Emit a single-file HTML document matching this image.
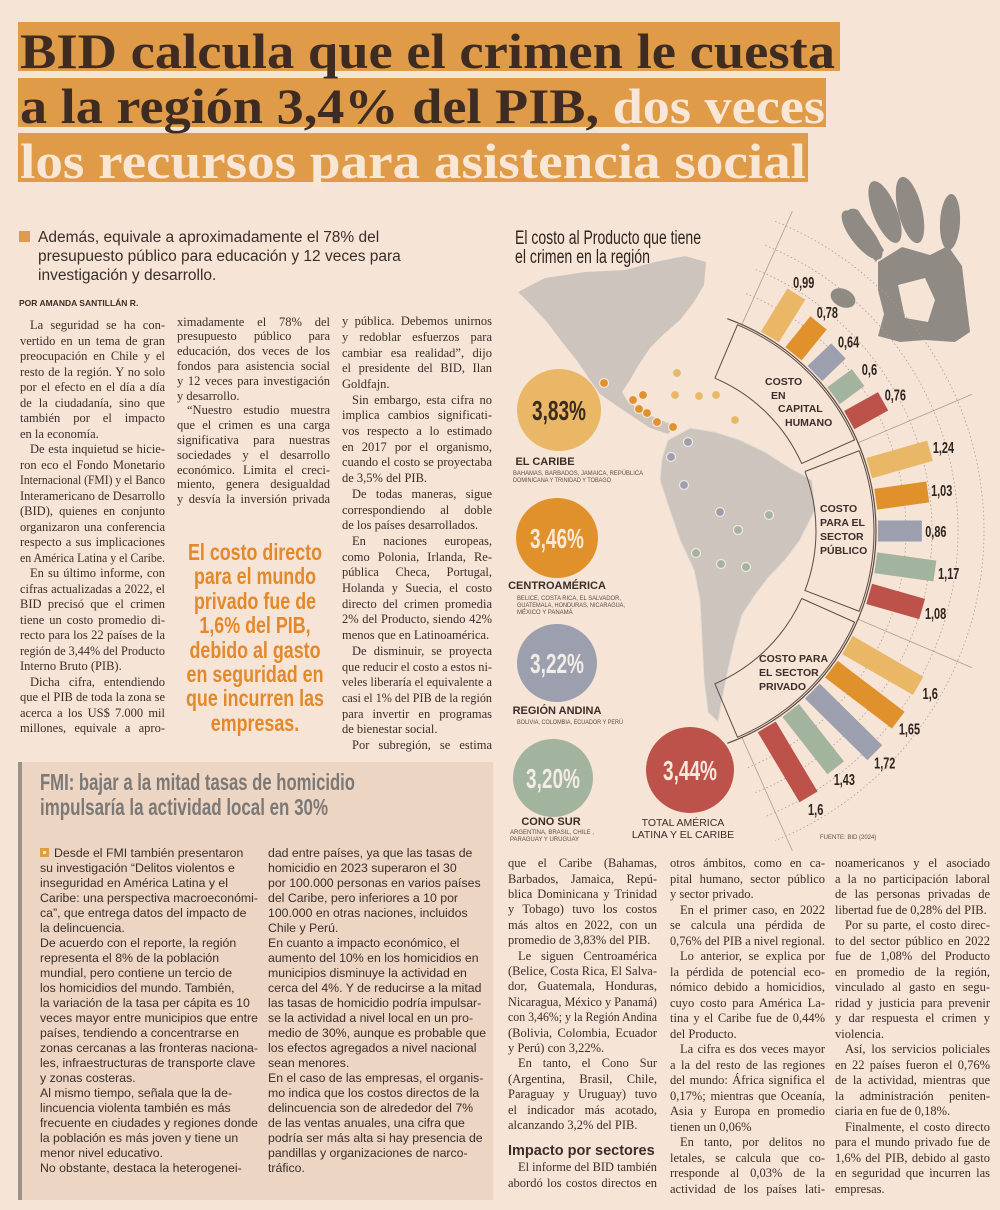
<!DOCTYPE html>
<html><head><meta charset="utf-8">
<style>
html,body{margin:0;padding:0;}
body{width:1000px;height:1210px;background:#f6e4d7;position:relative;overflow:hidden;font-family:"Liberation Serif",serif;color:#3a2e28;}
.abs{position:absolute;}
.hl{position:absolute;left:18px;background:#e09b48;height:49px;}
.tl{position:absolute;left:20px;font-family:"Liberation Serif",serif;font-weight:bold;font-size:50px;white-space:nowrap;line-height:1;}
.ln{position:absolute;white-space:nowrap;}
.col{position:absolute;}
</style></head>
<body>

<div class="hl" style="top:22px;width:822px"></div>
<div class="hl" style="top:78px;width:808px"></div>
<div class="hl" style="top:133px;width:790px"></div>
<div class="tl fit" data-w="815" style="top:26px;color:#3e2c22">BID calcula que el crimen le cuesta</div>
<div class="tl fit" data-w="805" style="top:81px;color:#3e2c22">a la región 3,4% del PIB, <span style="color:#f8e6d6">dos veces</span></div>
<div class="tl fit" data-w="786" style="top:136px;color:#f8e6d6">los recursos para asistencia social</div>

<div class="abs" style="left:19px;top:231px;width:11px;height:11px;background:#e09b48"></div>
<div class="abs" style="left:38px;top:228px;font-family:'Liberation Sans',sans-serif;font-size:15.5px;line-height:19px;color:#3a2e28">Además, equivale a aproximadamente el 78% del<br>presupuesto público para educación y 12 veces para<br>investigación y desarrollo.</div>
<div class="abs" style="left:19px;top:298px;font-family:'Liberation Sans',sans-serif;font-weight:bold;font-size:8.5px;color:#3a2e28">POR AMANDA SANTILLÁN R.</div>

<div id="pull" class="abs" style="left:145px;top:540px;width:220px;font-family:'Liberation Sans',sans-serif;font-weight:bold;font-size:23px;line-height:24.4px;color:#e3892a;text-align:center"></div>

<!-- FMI box -->
<div class="abs" style="left:18px;top:762px;width:475px;height:438px;background:#ecd5c3;border-left:4px solid #9a918a;box-sizing:border-box"></div>
<div class="abs" style="left:40px;top:770px;font-family:'Liberation Sans',sans-serif;font-weight:bold;font-size:23px;line-height:25px;color:#7c7876"><span class="fit" data-w="315" style="display:inline-block;white-space:nowrap">FMI: bajar a la mitad tasas de homicidio</span><br><span class="fit" data-w="288" style="display:inline-block;white-space:nowrap">impulsaría la actividad local en 30%</span></div>
<div class="abs" style="left:40px;top:848px;width:9px;height:9px;background:#e09b48;box-sizing:border-box"><div style="position:absolute;left:3px;top:3px;width:3px;height:3px;background:#f6e4d7"></div></div>

<div class="abs" style="left:508px;top:1143px;font-family:'Liberation Sans',sans-serif;font-weight:bold;font-size:14.5px;color:#3a2e28">Impacto por sectores</div>

<svg id="chart" class="abs" style="left:0;top:0" width="1000" height="1210"></svg>

<script>
// ===== Chart data =====
const groupNames = ["COSTO EN CAPITAL HUMANO","COSTO PARA EL SECTOR PÚBLICO","COSTO PARA EL SECTOR PRIVADO"];
const regions = ["El Caribe","Centroamérica","Región Andina","Cono Sur","Total América Latina y el Caribe"];
const capitalHumano = [0.99,0.78,0.64,0.6,0.76];
const sectorPublico = [1.24,1.03,0.86,1.17,1.08];
const sectorPrivado = [1.6,1.65,1.72,1.43,1.6];
const capitalLabels = ["0,99","0,78","0,64","0,6","0,76"];
const publicoLabels = ["1,24","1,03","0,86","1,17","1,08"];
const privadoLabels = ["1,6","1,65","1,72","1,43","1,6"];
const regionTotals = [3.83,3.46,3.22,3.20,3.44];
const regionTotalLabels = ["3,83%","3,46%","3,22%","3,20%","3,44%"];

const NS="http://www.w3.org/2000/svg";
const svg=document.getElementById('chart');
const colors=["#e9b766","#e0912c","#9c9fae","#a2b39e","#bd524a"];
const cx=650, cy=531, r0=226, k=51, barW=21;
function rScale(v){return k*v;}
const groupAngles=[[58.3,51,43.7,36.4,29.1],[16,8,0,-8,-16],[-30,-37.3,-44.6,-51.9,-59.2]];
function pt(r,a){const t=a*Math.PI/180;return [cx+r*Math.cos(t),cy-r*Math.sin(t)];}
function mk(tag,attrs){const e=document.createElementNS(NS,tag);for(const k2 in attrs)e.setAttribute(k2,attrs[k2]);svg.appendChild(e);return e;}
function arcPath(r,a1,a2){const p1=pt(r,a1),p2=pt(r,a2);return `M${p1[0]},${p1[1]} A${r},${r} 0 0 1 ${p2[0]},${p2[1]}`;}

// map
let e;
e=mk('path',{d:"M518,292 L545,278 L585,272 L625,270 L655,262 L685,256 L706,262 L704,285 L694,302 L680,320 L664,334 L650,348 L638,366 L630,380 L622,392 L628,402 L645,413 L660,420 L676,426 L668,434 L650,428 L632,416 L614,404 L600,394 L590,380 L578,362 L562,342 L547,322 L532,306 Z",fill:"#cdc5bd"});


e=mk('path',{d:"M668,440 L690,428 L715,432 L740,440 L765,452 L790,468 L812,480 L815,510 L800,540 L785,560 L768,578 L755,595 L742,615 L735,640 L728,670 L722,700 L718,722 L708,712 L704,680 L702,640 L700,600 L694,570 L680,540 L668,505 L660,480 L662,458 Z",fill:"#cdc5bd",stroke:"#e6ddd5","stroke-width":"1"});


const mapDots=[[604,383,1],[643,395,1],[633,400,1],[639,409,1],[647,413,1],[657,422,1],[673,427,1],[677,373,0],[675,395,0],[699,396,0],[716,395,0],[735,420,0],[688,442,2],[671,457,2],[684,485,2],[720,512,2],[738,530,3],[696,553,3],[721,564,3],[746,567,3],[769,515,3]];
mapDots.forEach(d=>{const c=mk('circle',{cx:d[0],cy:d[1],r:4.5,fill:colors[d[2]],stroke:"#f1e6dc","stroke-width":"1.2"});

});

// hand
const handParts=[
 ['path',{d:"M843,218 Q848,205 858,210 L884,250 L876,262 Z"}],
 ['ellipse',{cx:862,cy:235,rx:11,ry:30,transform:"rotate(-38 862 235)"}],
 ['ellipse',{cx:885,cy:212,rx:12,ry:33,transform:"rotate(-22 885 212)"}],
 ['ellipse',{cx:910,cy:210,rx:12,ry:34,transform:"rotate(-14 910 210)"}],
 ['ellipse',{cx:950,cy:222,rx:10,ry:28,transform:"rotate(3 950 222)"}],
 ['path',{d:"M878,262 L902,247 L930,255 L948,246 L962,266 L966,300 L970,332 L955,342 L925,340 L900,342 L878,336 L884,314 L878,290 Z"}],
 ['ellipse',{cx:843,cy:298,rx:13,ry:9,transform:"rotate(25 843 298)"}]];
handParts.forEach(h=>{const p=mk(h[0],Object.assign({fill:"#8f8a84"},h[1]));

});
e=mk('path',{d:"M898,285 L925,278 L935,300 L928,322 L905,318 Z",fill:"#f6e4d7"});



// grid arcs
[256,282,308,334].forEach(r=>{const a=mk('path',{d:arcPath(r,68,-68),fill:"none",stroke:"#a99d94","stroke-width":"0.8","stroke-dasharray":"1.5 2.5"});

});
[66,23,-23,-66].forEach(a=>{const p1=pt(r0,a),p2=pt(350,a);const l=mk('line',{x1:p1[0],y1:p1[1],x2:p2[0],y2:p2[1],stroke:"#a99d94","stroke-width":"0.8"});

});
e=mk('path',{d:arcPath(r0,70,-70),fill:"none",stroke:"#5b4b42","stroke-width":"1.2"});


const boxRanges=[[67,24],[21,-21],[-24,-67]];
boxRanges.forEach(rg=>{const a1=rg[0],a2=rg[1],ri=166,ro=224;const p1=pt(ri,a1),p2=pt(ro,a1),p3=pt(ro,a2),p4=pt(ri,a2);
const w=mk('path',{d:`M${p1[0]},${p1[1]} L${p2[0]},${p2[1]} A${ro},${ro} 0 0 1 ${p3[0]},${p3[1]} L${p4[0]},${p4[1]} A${ri},${ri} 0 0 0 ${p1[0]},${p1[1]}`,fill:"none",stroke:"#5b4b42","stroke-width":"1"});

});

// bars
const seriesVals=[capitalHumano,sectorPublico,sectorPrivado];
const seriesLbls=[capitalLabels,publicoLabels,privadoLabels];
seriesVals.forEach((vals,g)=>{vals.forEach((v,i)=>{
 const a=groupAngles[g][i];const len=rScale(v);
 const b=mk('rect',{x:r0+2,y:-barW/2,width:len,height:barW,fill:colors[i],transform:`translate(${cx},${cy}) rotate(${-a})`});
 
 
 const lp=pt(r0+len+16,a);
 const s=seriesLbls[g][i];
 const t=mk('text',{x:lp[0],y:lp[1]+6,'text-anchor':'middle','font-family':"'Liberation Sans',sans-serif",'font-weight':'bold','font-size':'16',fill:'#2e241e',textLength:(s.length*5.8-2),lengthAdjust:'spacingAndGlyphs'});
 t.textContent=s;
 
 
});});

// group labels
function txt(x,y,s,size,fill,anchor,weight,fam,name,tl){const at={x:x,y:y,'font-size':size,fill:fill,'text-anchor':anchor||'start','font-weight':weight||'bold','font-family':fam||"'Liberation Sans',sans-serif"};if(tl){at.textLength=tl;at.lengthAdjust='spacingAndGlyphs';}const t=mk('text',at);t.textContent=s;

return t;}
[["COSTO",765,385],["EN",771,399],["CAPITAL",778,412],["HUMANO",785,426]].forEach(l=>txt(l[1],l[2],l[0],10.5,'#3a2e28','start','bold',null,'group-label-capital'));
[["COSTO",820,512],["PARA EL",820,526],["SECTOR",820,540],["PÚBLICO",820,554]].forEach(l=>txt(l[1],l[2],l[0],10.5,'#3a2e28','start','bold',null,'group-label-publico'));
[["COSTO PARA",759,662],["EL SECTOR",759,676],["PRIVADO",759,690]].forEach(l=>txt(l[1],l[2],l[0],10.5,'#3a2e28','start','bold',null,'group-label-privado'));

// chart title
txt(515,244,"El costo al Producto que tiene",19,'#2e241e','start','normal',null,'chart-title',186);
txt(515,263,"el crimen en la región",19,'#2e241e','start','normal',null,'chart-title',135);

// region circles
const circPos=[[559,410,42],[557,538,41],[557,663,40],[553,778,40],[690,770,44]];
const circText=['#3a2a20','#f8e9dc','#f2ece6','#f2ece6','#f8e9dc'];
regionTotals.forEach((v,i)=>{const p=circPos[i];
 const c=mk('ellipse',{cx:p[0],cy:p[1],rx:p[2],ry:p[2]-1,fill:colors[i]});
 
 
 txt(p[0],p[1]+10,regionTotalLabels[i],28,circText[i],'middle','bold',null,'region-total-value',54);
});
txt(545,465,"EL CARIBE",11,'#3a2e28','middle','bold',null,'region-name');
txt(513,475,"BAHAMAS, BARBADOS, JAMAICA, REPÚBLICA",6,'#5a4c44','start','normal',null,'region-countries',130);
txt(513,482,"DOMINICANA Y TRINIDAD Y TOBAGO",6,'#5a4c44','start','normal',null,'region-countries',98);
txt(557,589,"CENTROAMÉRICA",11,'#3a2e28','middle','bold',null,'region-name');
txt(517,600,"BELICE, COSTA RICA, EL SALVADOR,",6,'#5a4c44','start','normal',null,'region-countries',104);
txt(517,607,"GUATEMALA, HONDURAS, NICARAGUA,",6,'#5a4c44','start','normal',null,'region-countries',108);
txt(517,614,"MÉXICO Y PANAMÁ",6,'#5a4c44','start','normal',null,'region-countries');
txt(557,714,"REGIÓN ANDINA",11,'#3a2e28','middle','bold',null,'region-name');
txt(517,724,"BOLIVIA, COLOMBIA, ECUADOR Y PERÚ",6,'#5a4c44','start','normal',null,'region-countries',106);
txt(551,825,"CONO SUR",11,'#3a2e28','middle','bold',null,'region-name');
txt(510,834,"ARGENTINA, BRASIL, CHILE ,",6,'#5a4c44','start','normal',null,'region-countries');
txt(510,841,"PARAGUAY Y URUGUAY",6,'#5a4c44','start','normal',null,'region-countries');
txt(683,826,"TOTAL AMÉRICA",10.5,'#3a2e28','middle','normal',null,'region-name');
txt(683,838,"LATINA Y EL CARIBE",10.5,'#3a2e28','middle','normal',null,'region-name');
txt(820,839,"FUENTE: BID (2024)",6,'#5a4c44','start','normal',null,'chart-source');
</script>

<script>
// ===== Text columns =====
// ">" = paragraph indent, "^" = bullet indent, "|" = last line of paragraph (not justified)
const columns=[
 {name:'article-column-1',x:20,y:326,w:145,lh:15.5,lines:[">La seguridad se ha con-","vertido en un tema de gran","preocupación en Chile y el","resto de la región. Y no solo","por el efecto en el día a día","de la ciudadanía, sino que","también por el impacto","en la economía.|",">De esta inquietud se hicie-","ron eco el Fondo Monetario","Internacional (FMI) y el Banco","Interamericano de Desarrollo","(BID), quienes en conjunto","organizaron una conferencia","respecto a sus implicaciones","en América Latina y el Caribe.|",">En su último informe, con","cifras actualizadas a 2022, el","BID precisó que el crimen","tiene un costo promedio di-","recto para los 22 países de la","región de 3,44% del Producto","Interno Bruto (PIB).|",">Dicha cifra, entendiendo","que el PIB de toda la zona se","acerca a los US$ 7.000 mil","millones, equivale a apro-"]},
 {name:'article-column-2',x:177,y:322,w:153,lh:14.8,lines:["ximadamente el 78% del","presupuesto público para","educación, dos veces de los","fondos para asistencia social","y 12 veces para investigación","y desarrollo.|",">“Nuestro estudio muestra","que el crimen es una carga","significativa para nuestras","sociedades y el desarrollo","económico. Limita el creci-","miento, genera desigualdad","y desvía la inversión privada"]},
 {name:'article-column-3',x:342,y:322,w:150,lh:15.7,lines:["y pública. Debemos unirnos","y redoblar esfuerzos para","cambiar esa realidad”, dijo","el presidente del BID, Ilan","Goldfajn.|",">Sin embargo, esta cifra no","implica cambios significati-","vos respecto a lo estimado","en 2017 por el organismo,","cuando el costo se proyectaba","de 3,5% del PIB.|",">De todas maneras, sigue","correspondiendo al doble","de los países desarrollados.|",">En naciones europeas,","como Polonia, Irlanda, Re-","pública Checa, Portugal,","Holanda y Suecia, el costo","directo del crimen promedia","2% del Producto, siendo 42%","menos que en Latinoamérica.|",">De disminuir, se proyecta","que reducir el costo a estos ni-","veles liberaría el equivalente a","casi el 1% del PIB de la región","para invertir en programas","de bienestar social.|",">Por subregión, se estima"]},
 {name:'article-column-4',x:508,y:864,w:149,lh:15.4,lines:["que el Caribe (Bahamas,","Barbados, Jamaica, Repú-","blica Dominicana y Trinidad","y Tobago) tuvo los costos","más altos en 2022, con un","promedio de 3,83% del PIB.|",">Le siguen Centroamérica","(Belice, Costa Rica, El Salva-","dor, Guatemala, Honduras,","Nicaragua, México y Panamá)","con 3,46%; y la Región Andina","(Bolivia, Colombia, Ecuador","y Perú) con 3,22%.|",">En tanto, el Cono Sur","(Argentina, Brasil, Chile,","Paraguay y Uruguay) tuvo","el indicador más acotado,","alcanzando 3,2% del PIB.|"]},
 {name:'article-column-4b',x:508,y:1168,w:149,lh:15.5,lines:[">El informe del BID también","abordó los costos directos en"]},
 {name:'article-column-5',x:670,y:864,w:155,lh:15.5,lines:["otros ámbitos, como en ca-","pital humano, sector público","y sector privado.|",">En el primer caso, en 2022","se calcula una pérdida de","0,76% del PIB a nivel regional.|",">Lo anterior, se explica por","la pérdida de potencial eco-","nómico debido a homicidios,","cuyo costo para América La-","tina y el Caribe fue de 0,44%","del Producto.|",">La cifra es dos veces mayor","a la del resto de las regiones","del mundo: África significa el","0,17%; mientras que Oceanía,","Asia y Europa en promedio","tienen un 0,06%|",">En tanto, por delitos no","letales, se calcula que co-","rresponde al 0,03% de la","actividad de los países lati-"]},
 {name:'article-column-6',x:835,y:864,w:155,lh:15.5,lines:["noamericanos y el asociado","a la no participación laboral","de las personas privadas de","libertad fue de 0,28% del PIB.|",">Por su parte, el costo direc-","to del sector público en 2022","fue de 1,08% del Producto","en promedio de la región,","vinculado al gasto en segu-","ridad y justicia para prevenir","y dar respuesta el crimen y","violencia.|",">Así, los servicios policiales","en 22 países fueron el 0,76%","de la actividad, mientras que","la administración peniten-","ciaria en fue de 0,18%.|",">Finalmente, el costo directo","para el mundo privado fue de","1,6% del PIB, debido al gasto","en seguridad que incurren las","empresas.|"]},
 {name:'fmi-column-1',sans:true,x:40,y:853,w:218,lh:15.0,lines:["^Desde el FMI también presentaron|","su investigación “Delitos violentos e|","inseguridad en América Latina y el|","Caribe: una perspectiva macroeconómi-|","ca”, que entrega datos del impacto de|","la delincuencia.|","De acuerdo con el reporte, la región|","representa el 8% de la población|","mundial, pero contiene un tercio de|","los homicidios del mundo. También,|","la variación de la tasa per cápita es 10|","veces mayor entre municipios que entre|","países, tendiendo a concentrarse en|","zonas cercanas a las fronteras naciona-|","les, infraestructuras de transporte clave|","y zonas costeras.|","Al mismo tiempo, señala que la de-|","lincuencia violenta también es más|","frecuente en ciudades y regiones donde|","la población es más joven y tiene un|","menor nivel educativo.|","No obstante, destaca la heterogenei-|"]},
 {name:'fmi-column-2',sans:true,x:268,y:853,w:222,lh:15.0,lines:["dad entre países, ya que las tasas de|","homicidio en 2023 superaron el 30|","por 100.000 personas en varios países|","del Caribe, pero inferiores a 10 por|","100.000 en otras naciones, incluidos|","Chile y Perú.|","En cuanto a impacto económico, el|","aumento del 10% en los homicidios en|","municipios disminuye la actividad en|","cerca del 4%. Y de reducirse a la mitad|","las tasas de homicidio podría impulsar-|","se la actividad a nivel local en un pro-|","medio de 30%, aunque es probable que|","los efectos agregados a nivel nacional|","sean menores.|","En el caso de las empresas, el organis-|","mo indica que los costos directos de la|","delincuencia son de alrededor del 7%|","de las ventas anuales, una cifra que|","podría ser más alta si hay presencia de|","pandillas y organizaciones de narco-|","tráfico.|"]}
];
columns.forEach(col=>{
 const box=document.createElement('div');
 box.className='col';
 box.style.left=col.x+'px';box.style.top=(col.y-col.lh/2)+'px';box.style.width=col.w+'px';
 box.style.fontFamily=col.sans?"'Liberation Sans',sans-serif":"'Liberation Serif',serif";
 box.style.fontSize=col.sans?'12.3px':'12.5px';
 
 
 document.body.appendChild(box);
 col.lines.forEach((raw,i)=>{
  let s=raw,ind=0,last=false;
  if(s[0]==='>'){ind=10;s=s.slice(1);}
  if(s[0]==='^'){ind=14;s=s.slice(1);}
  if(s.endsWith('|')){last=true;s=s.slice(0,-1);}
  const d=document.createElement('span');
  d.className='ln';
  d.style.left=ind+'px';d.style.top=(i*col.lh)+'px';d.style.lineHeight=col.lh+'px';
  d.textContent=s;
  
  
  box.appendChild(d);
  const avail=col.w-ind;const nat=d.getBoundingClientRect().width;
  if(nat>avail){d.style.transformOrigin='0 0';d.style.transform='scaleX('+(avail/nat)+')';}
  else if(!last){const sp=(s.match(/ /g)||[]).length;if(sp)d.style.wordSpacing=((avail-nat)/sp)+'px';}
 });
});
// pull quote
const pullLines=["El costo directo","para el mundo","privado fue de","1,6% del PIB,","debido al gasto","en seguridad en","que incurren las","empresas."];
const pull=document.getElementById('pull');
pullLines.forEach(l=>{const d=document.createElement('div');d.textContent=l;d.style.whiteSpace='nowrap';


pull.appendChild(d);});
(function(){let mx=0;pull.querySelectorAll('div').forEach(d=>{const s=document.createElement('span');s.textContent=d.textContent;d.textContent='';d.appendChild(s);mx=Math.max(mx,s.getBoundingClientRect().width);});
if(mx>138){pull.style.transformOrigin='50% 0';pull.style.transform='scaleX('+(138/mx)+')';}})();
// fit headline widths
document.querySelectorAll('.fit').forEach(el=>{const w=+el.getAttribute('data-w');const nat=el.getBoundingClientRect().width;el.style.transformOrigin='0 0';el.style.transform='scaleX('+(w/nat)+')';});
</script>
</body></html>
